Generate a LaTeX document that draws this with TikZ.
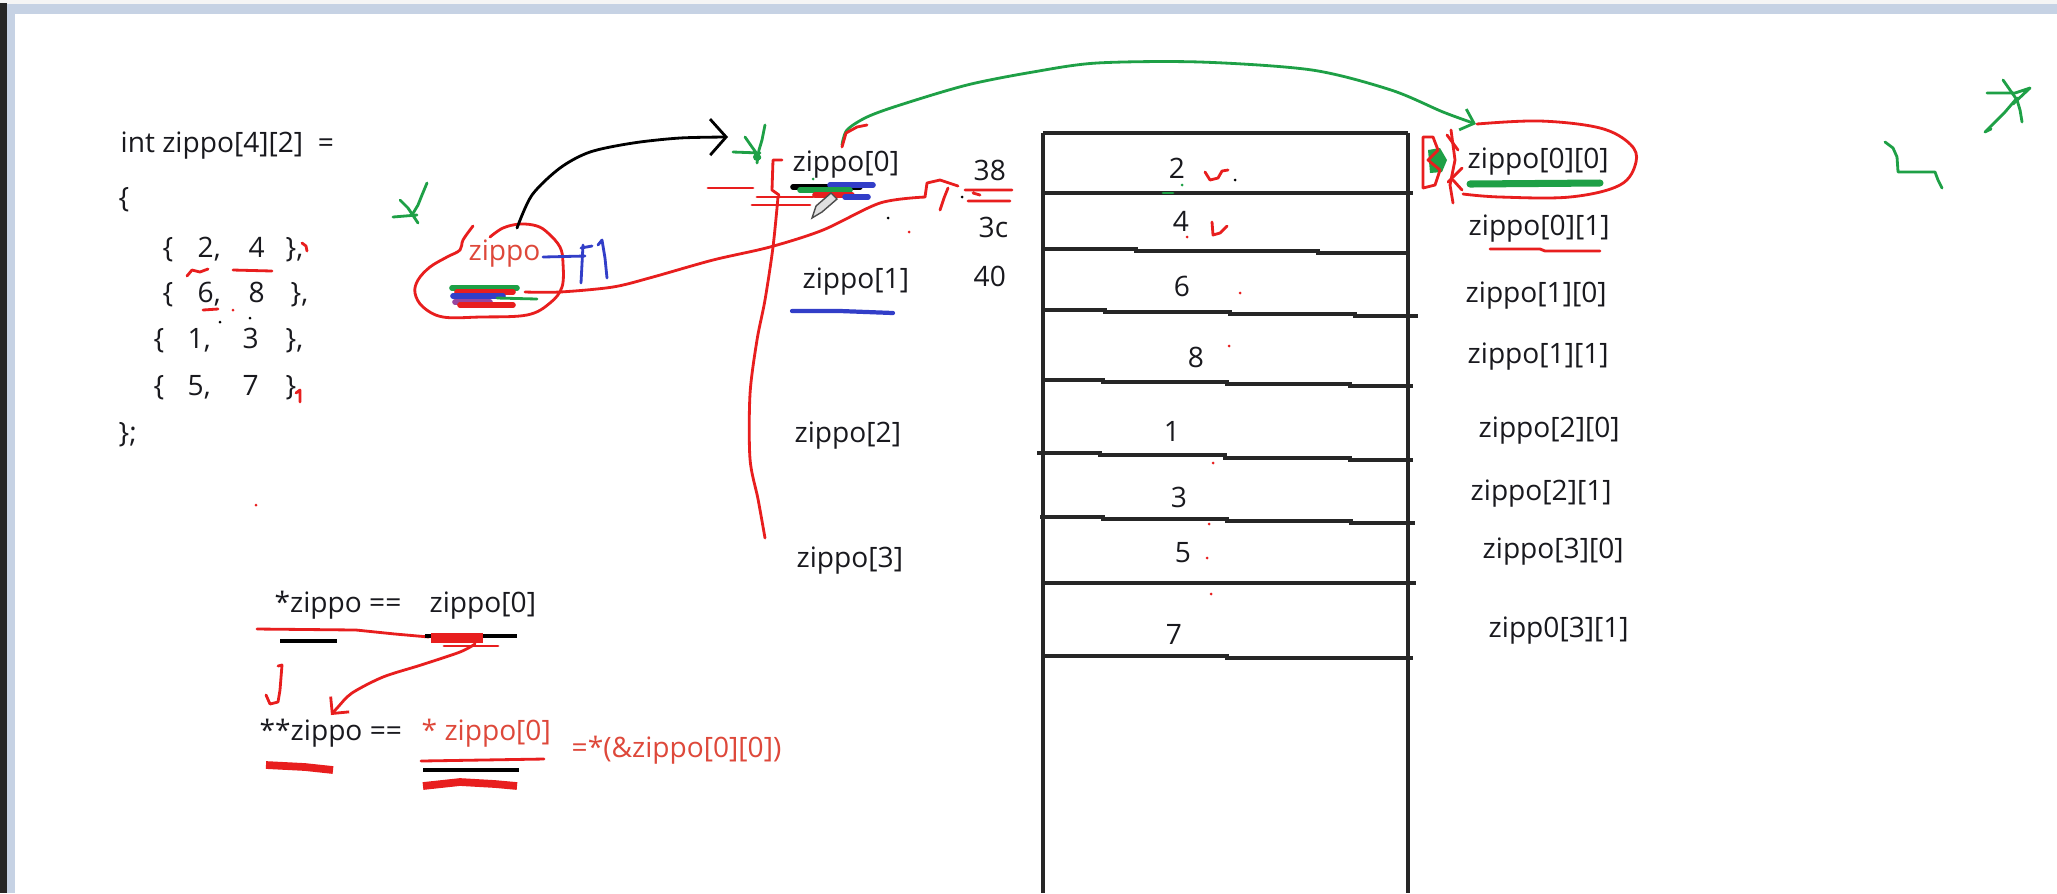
\documentclass[tikz,border=0pt]{standalone}
\usepackage{fontspec}
\setmainfont{Open Sans}
\usetikzlibrary{arrows.meta}

\definecolor{ink}{RGB}{25,25,30}
\definecolor{inkred}{RGB}{232,30,30}
\definecolor{textred}{RGB}{222,72,58}
\definecolor{inkgreen}{RGB}{30,160,70}
\definecolor{inkblue}{RGB}{50,62,200}
\definecolor{inkpurple}{RGB}{150,70,160}
\definecolor{frameblue}{RGB}{198,210,228}

\newcommand{\codesize}{\fontsize{8}{9.6}\selectfont}

\tikzset{
  code/.style={font=\codesize, text=ink, inner sep=0pt, anchor=base west},
  redcode/.style={code, text=textred},
  pen/.style={line width=0.8pt, line cap=round, line join=round},
  redpen/.style={pen, draw=inkred},
  greenpen/.style={pen, draw=inkgreen},
  bluepen/.style={pen, draw=inkblue},
  blackpen/.style={pen, draw=black},
  fatpen/.style={line width=1.6pt, line cap=round},
  memline/.style={line width=0.9pt, draw=black!85},
}

\begin{document}
\begin{tikzpicture}[x=0.1mm, y=-0.1mm,
    >={Straight Barb[length=1.6mm,width=3.6mm]}]
    \useasboundingbox (0,0) rectangle (2057,893);

    % window frame
    \fill[white] (0,0) rectangle (2057,893);
    \fill[gray!8] (0,0) rectangle (2057,4);
    \fill[frameblue] (0,4) rectangle (2057,14);
    \fill[frameblue] (7,14) rectangle (15,893);
    \fill[black!85] (0,3) rectangle (7,893);

    % the initializer
    \node[code] (decl) at (120,152) {int zippo[4][2]\ \ =};
    \node[code] (open) at (118,207) {\{};
    \node[code] (r1a) at (162,257) {\{};
    \node[code] (r1b) at (197,257) {2,};
    \node[code] (r1c) at (248,257) {4};
    \node[code] (r1d) at (285,257) {\},};
    \node[code] (r2a) at (162,302) {\{};
    \node[code] (r2b) at (197,302) {6,};
    \node[code] (r2c) at (248,302) {8};
    \node[code] (r2d) at (290,302) {\},};
    \node[code] (r3a) at (153,348) {\{};
    \node[code] (r3b) at (187,348) {1,};
    \node[code] (r3c) at (242,348) {3};
    \node[code] (r3d) at (285,348) {\},};
    \node[code] (r4a) at (153,395) {\{};
    \node[code] (r4b) at (187,395) {5,};
    \node[code] (r4c) at (242,395) {7};
    \node[code] (r4d) at (285,395) {\}};
    \node[code] (close) at (118,442) {\};};

    % marks on the initializer
    \draw[redpen] (187,276) -- (192,270) -- (200,272) -- (208,269);
    \draw[redpen] (233,270) -- (272,271);
    \draw[redpen] (203,310) -- (218,309);
    \draw[redpen] (302,243) -- (306,246) -- (307,251);
    \draw[redpen] (296,393) -- (300,390) -- (300,402);
    \fill[inkred] (233,310) circle (1.5) (256,505) circle (1.5);
    \fill[black] (220,322) circle (1.5) (250,318) circle (1.5);

    % the pointer zippo
    \node[redcode] (blob) at (468,260) {zippo};
    \draw[redpen] plot[smooth, tension=0.6] coordinates {(490,237) (503,228) (520,224) (537,226)
        (548,233) (560,247) (563,263) (562,287) (550,303) (527,315) (480,317) (443,317)
        (423,307) (415,293) (418,280) (430,267) (447,257) (460,250) (463,240) (473,226)};
    \draw[inkgreen, fatpen] (452,288) -- (517,288);
    \draw[inkred, fatpen] (457,292) -- (513,292);
    \draw[inkblue, fatpen] (453,296) -- (503,296);
    \draw[inkpurple, fatpen] (455,302) -- (490,302);
    \draw[inkred, fatpen] (460,305) -- (513,305);
    \draw[greenpen] (497,298) -- (537,299);
    % +1
    \draw[bluepen] (543,257) -- (585,256);
    \draw[bluepen] (581,248) -- (592,246) (583,245) -- (581,283);
    \draw[bluepen] (598,245) -- (602,240) -- (605,258) -- (607,278);
    % green marks
    \draw[greenpen] (427,183) -- (422,195) -- (418,205) -- (412,215);
    \draw[greenpen] (393,217) -- (417,215) (400,200) -- (408,208) -- (418,223);

    % row pointers and addresses
    \node[code] (p0) at (792,171) {zippo[0]};
    \node[code] (p1) at (802,288) {zippo[1]};
    \node[code] (p2) at (794,442) {zippo[2]};
    \node[code] (p3) at (796,567) {zippo[3]};
    \node[code] (a38) at (973,180) {38};
    \node[code] (a3c) at (978,237) {3c};
    \node[code] (a40) at (973,286) {40};

    % zippo points to zippo[0]
    \coordinate (blobtop) at (517,228);
    \coordinate (p0left) at (728,137);
    \draw[blackpen, ->] plot[smooth] coordinates {(blobtop) (532,195) (560,168) (590,152)
        (633,143) (680,138) (p0left)};

    % marks round zippo[0]
    \draw[greenpen] (765,125) -- (762,140) -- (759,150) -- (757,163);
    \draw[greenpen] (733,152) -- (760,153) (745,137) -- (752,147) -- (760,158);
    \fill[inkgreen] (757,157) circle (4);
    \draw[redpen] (708,188) -- (753,188);
    \draw[redpen] (782,160) -- (773,160) -- (772,190) -- (779,195);
    \draw[redpen] (757,197) -- (813,197) (752,205) -- (810,205);
    \draw[redpen] plot[smooth] coordinates {(778,197) (773,247) (765,300) (757,340)
        (750,394) (750,459) (758,499) (765,538)};
    \draw[black, fatpen] (793,187) -- (860,187);
    \draw[inkblue, fatpen] (830,185) -- (873,185);
    \draw[inkgreen, fatpen] (800,190) -- (850,190);
    \draw[inkred, fatpen] (815,195) -- (852,195);
    \draw[inkblue, fatpen] (845,197) -- (868,197);
    \filldraw[fill=gray!25, draw=gray!60!black, line width=0.4pt]
        (812,218) -- (816,206) -- (831,193) -- (837,199) -- (822,212) -- cycle;
    \fill[black] (888,218) circle (1.5) (962,197) circle (1.5);
    \fill[inkred] (909,232) circle (1.5);
    \fill[inkgreen] (813,179) circle (1.5);
    \draw[bluepen, line width=1.2pt] (792,311) -- (840,311) -- (893,313);

    % zippo+1 to the address 38
    \coordinate (blobtail) at (525,292);
    \coordinate (hook38) at (925,197);
    \draw[redpen] plot[smooth, tension=0.5] coordinates {(blobtail) (560,292) (613,287)
        (653,277) (713,260) (770,247) (823,230) (880,203) (hook38)};
    \draw[redpen] (hook38) -- (927,183) -- (940,180) -- (958,186);
    \draw[redpen] (948,188) -- (944,198) -- (940,210);
    \draw[redpen] (965,190) -- (1012,190) (968,201) -- (1010,201) (973,193) -- (980,195);

    % memory column
    \draw[memline] (1043,133) -- (1408,133);
    \draw[memline] (1043,133) -- (1043,893) (1408,133) -- (1408,893);
    \draw[memline] (1043,193) -- (1413,193);
    \draw[memline] (1043,249) -- (1136,249) -- (1136,251) -- (1318,251) -- (1318,253) -- (1408,253);
    \draw[memline] (1043,310) -- (1105,310) -- (1105,312) -- (1230,312) -- (1230,314)
        -- (1355,314) -- (1355,316) -- (1418,316);
    \draw[memline] (1042,380) -- (1103,380) -- (1103,382) -- (1227,382) -- (1227,384)
        -- (1350,384) -- (1350,386) -- (1413,386);
    \draw[memline] (1037,453) -- (1100,453) -- (1100,455) -- (1225,455) -- (1225,458)
        -- (1350,458) -- (1350,460) -- (1413,460);
    \draw[memline] (1040,517) -- (1103,517) -- (1103,519) -- (1227,519) -- (1227,521)
        -- (1351,521) -- (1351,523) -- (1415,523);
    \draw[memline] (1043,583) -- (1416,583);
    \draw[memline] (1043,656) -- (1227,656) -- (1227,658) -- (1413,658);
    \foreach \v/\x/\y in {2/1177/178, 4/1181/231, 6/1182/296, 8/1196/367,
                          1/1172/441, 3/1179/507, 5/1183/562, 7/1174/644}
        \node[code, anchor=base] (cell\v) at (\x,\y) {\v};

    % marks in the column
    \draw[redpen] (1205,172) -- (1210,180) -- (1218,178) -- (1222,171) -- (1228,170);
    \draw[redpen] (1212,222) -- (1213,235) -- (1220,233) -- (1227,226);
    \draw[greenpen] (1163,193) -- (1173,193);
    \fill[inkgreen] (1182,185) circle (1.5);
    \fill[black] (1235,180) circle (1.5);
    \foreach \x/\y in {1187/237, 1240/293, 1229/346, 1213/463, 1209/524, 1207/558, 1211/594}
        \fill[inkred] (\x,\y) circle (1.5);

    % the elements
    \foreach \t/\x/\y [count=\i] in {zippo[0][0]/1467/168, zippo[0][1]/1468/235,
        zippo[1][0]/1465/302, zippo[1][1]/1467/363, zippo[2][0]/1478/437,
        zippo[2][1]/1470/500, zippo[3][0]/1482/558, zipp0[3][1]/1488/637}
        \node[code] (elem\i) at (\x,\y) {\t};

    % zippo[0] points to zippo[0][0]
    \coordinate (p0top) at (842,145);
    \coordinate (elemtip) at (1476,124);
    \draw[greenpen, -{Straight Barb[length=1.2mm,width=2.2mm]}] plot[smooth] coordinates {(p0top)
        (847,130) (867,117) (900,105) (967,85) (1033,72) (1097,63) (1200,62) (1312,70)
        (1391,90) (1443,112) (elemtip)};
    \draw[redpen] (842,147) -- (846,133) -- (857,127) -- (867,125);

    % marks round zippo[0][0]
    \draw[redpen] plot[smooth, tension=0.6] coordinates {(1477,124) (1540,121) (1600,128)
        (1630,144) (1636,162) (1620,185) (1570,197) (1500,197) (1463,194)};
    \draw[redpen] (1451,130) -- (1455,160) -- (1450,185) -- (1453,203);
    \draw[redpen] (1447,135) -- (1458,150) (1462,168) -- (1448,182) (1453,180) -- (1462,190);
    \fill[inkgreen] (1428,150) -- (1440,148) -- (1447,160) -- (1442,172) -- (1430,173) -- cycle;
    \draw[redpen] (1423,188) -- (1423,137) -- (1433,137) -- (1438,150) -- (1428,160)
        -- (1440,170) -- (1435,185) -- (1423,188);
    \draw[inkgreen, line width=2pt, line cap=round] (1470,184) -- (1600,183);
    \draw[redpen] (1490,249) -- (1540,249) -- (1545,251) -- (1600,251);

    % green marks top right
    \draw[greenpen] (1885,142) -- (1893,148) -- (1897,157) -- (1898,172) -- (1935,172)
        -- (1938,180) -- (1942,188);
    \draw[greenpen] (1987,93) -- (2015,93) -- (2030,88) -- (2013,104);
    \draw[greenpen] (2003,80) -- (2010,90) -- (2017,100) -- (2020,110) -- (2022,122);
    \draw[greenpen] (2017,98) -- (2005,112) -- (1995,122) -- (1985,132) -- (1991,129);

    % the two equalities
    \node[code] (deref1) at (274,612) {*zippo ==};
    \node[code] (deref1r) at (429,612) {zippo[0]};
    \node[code] (deref2) at (259,740) {**zippo ==};
    \node[redcode] (deref2r) at (421,740) {* zippo[0]};
    \node[redcode] (addrexpr) at (571,757) {=*(\&zippo[0][0])};

    \draw[redpen] (257,629) -- (356,630) -- (395,634) -- (429,637);
    \draw[black, line width=1.2pt] (280,641) -- (337,641);
    \draw[black, line width=1.2pt] (425,636) -- (517,636);
    \draw[inkred, line width=2.6pt] (431,638) -- (483,638);
    \draw[redpen] (444,646) -- (498,646);
    \draw[redpen] (278,666) -- (282,665) -- (280,690) -- (278,702) -- (270,704) -- (266,695);
    \coordinate (deref1foot) at (475,644);
    \coordinate (deref2head) at (331,715);
    \draw[redpen, -{Straight Barb[length=1.2mm,width=2.4mm]}] plot[smooth] coordinates {(deref1foot)
        (460,652) (421,665) (383,677) (352,693) (338,707) (deref2head)};
    \draw[inkred, line width=2.2pt] (266,765) -- (305,767) -- (333,770);
    \draw[redpen] (421,761) -- (544,759);
    \draw[black, line width=1.2pt] (423,770) -- (519,770);
    \draw[inkred, line width=2.2pt] (423,786) -- (460,782) -- (495,784) -- (517,786);
\end{tikzpicture}
\end{document}
